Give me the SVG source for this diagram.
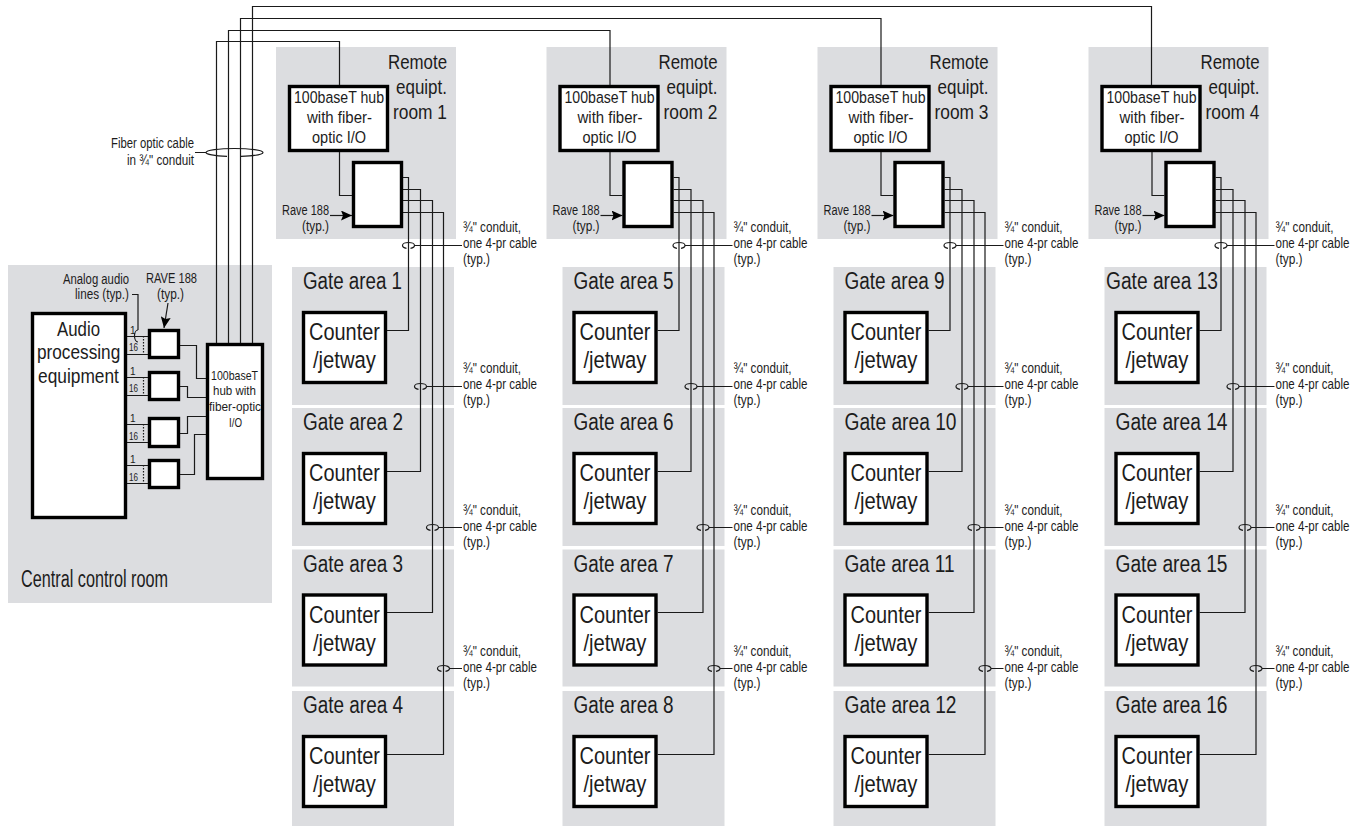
<svg xmlns="http://www.w3.org/2000/svg" width="1362" height="826" viewBox="0 0 1362 826">
<style>
text{font-family:"Liberation Sans",Arial,sans-serif;fill:#1c1c1c}
.bg{fill:#dcdde0}
.box{fill:#fff;stroke:#000;stroke-width:3.4}
.b{font-size:23px}
.r{font-size:21px}
.c{font-size:24.500px}
.h{font-size:17.200px}
.s{font-size:14px}
.m{font-size:13.500px}
.n{font-size:10px}
.w{fill:none;stroke:#1a1a1a;stroke-width:1.2}
.d{fill:none;stroke:#1a1a1a;stroke-width:1.2;stroke-dasharray:1.5 1.5}
</style>
<defs>
<marker id="arr" markerUnits="userSpaceOnUse" markerWidth="11" markerHeight="10" refX="11" refY="5" orient="auto"><path d="M0 0L11 5L0 10L2 5Z" fill="#000"/></marker>
</defs>

<g id="central-room">
<rect class="bg" x="8" y="265" width="264" height="338"/>
<text class="b" x="21" y="587" textLength="147" lengthAdjust="spacingAndGlyphs">Central control room</text>
<text class="s" x="63" y="284" textLength="66" lengthAdjust="spacingAndGlyphs">Analog audio</text>
<text class="s" x="75" y="299" textLength="54" lengthAdjust="spacingAndGlyphs">lines (typ.)</text>
<text class="s" x="146" y="283" textLength="51" lengthAdjust="spacingAndGlyphs">RAVE 188</text>
<text class="s" x="157" y="299" textLength="27" lengthAdjust="spacingAndGlyphs">(typ.)</text>
<text class="n" x="130" y="334">1</text><text class="n" x="129" y="351" textLength="9" lengthAdjust="spacingAndGlyphs">16</text>
<text class="n" x="130" y="375">1</text><text class="n" x="129" y="392" textLength="9" lengthAdjust="spacingAndGlyphs">16</text>
<text class="n" x="130" y="422">1</text><text class="n" x="129" y="440" textLength="9" lengthAdjust="spacingAndGlyphs">16</text>
<text class="n" x="130" y="463">1</text><text class="n" x="129" y="481" textLength="9" lengthAdjust="spacingAndGlyphs">16</text>
</g>
<g id="audio-processing">
<rect class="box" x="32.500" y="313.500" width="93" height="204"/>
<text class="r" x="57" y="336" textLength="43" lengthAdjust="spacingAndGlyphs">Audio</text>
<text class="r" transform="translate(37,359) scale(.82,1)">processing</text>
<text class="r" transform="translate(38,383) scale(.825,1)">equipment</text>
</g>
<g id="rave-a"><rect class="box" x="149.500" y="330.500" width="29" height="27"/></g>
<g id="rave-b"><rect class="box" x="149.500" y="372.500" width="29" height="27"/></g>
<g id="rave-c"><rect class="box" x="149.500" y="418.500" width="29" height="28"/></g>
<g id="rave-d"><rect class="box" x="149.500" y="460.500" width="29" height="27"/></g>
<g id="central-hub">
<rect class="box" x="207.500" y="344.500" width="55" height="134"/>
<text class="m" x="211" y="380" textLength="47" lengthAdjust="spacingAndGlyphs">100baseT</text>
<text class="m" x="213" y="395" textLength="43" lengthAdjust="spacingAndGlyphs">hub with</text>
<text class="m" x="209" y="411" textLength="52" lengthAdjust="spacingAndGlyphs">fiber-optic</text>
<text class="m" x="229" y="427" textLength="13" lengthAdjust="spacingAndGlyphs">I/O</text>
</g>
<g id="fiber-label">
<text class="s" x="111" y="148" textLength="83" lengthAdjust="spacingAndGlyphs">Fiber optic cable</text>
<text class="s" x="127" y="165" textLength="67" lengthAdjust="spacingAndGlyphs">in ¾" conduit</text>
</g>

<g id="room-1" transform="translate(0,0)">
<rect class="bg" x="276" y="47" width="180" height="192"/>
<text class="r" x="388" y="69" textLength="59" lengthAdjust="spacingAndGlyphs">Remote</text>
<text class="r" x="396" y="94" textLength="51" lengthAdjust="spacingAndGlyphs">equipt.</text>
<text class="r" x="393" y="119" textLength="54" lengthAdjust="spacingAndGlyphs">room 1</text>
<rect class="box" x="289.500" y="86.500" width="98" height="64"/>
<text class="h" x="294" y="103" textLength="90" lengthAdjust="spacingAndGlyphs">100baseT hub</text>
<text class="h" x="307" y="123" textLength="65" lengthAdjust="spacingAndGlyphs">with fiber-</text>
<text class="h" x="312" y="143" textLength="54" lengthAdjust="spacingAndGlyphs">optic I/O</text>
<rect class="box" x="353.500" y="162.500" width="48" height="64"/>
<text class="s" x="282" y="215" textLength="47" lengthAdjust="spacingAndGlyphs">Rave 188</text>
<text class="s" x="302" y="231" textLength="27" lengthAdjust="spacingAndGlyphs">(typ.)</text>
</g>
<g id="room-2" transform="translate(270.500,0)">
<rect class="bg" x="276" y="47" width="180" height="192"/>
<text class="r" x="388" y="69" textLength="59" lengthAdjust="spacingAndGlyphs">Remote</text>
<text class="r" x="396" y="94" textLength="51" lengthAdjust="spacingAndGlyphs">equipt.</text>
<text class="r" x="393" y="119" textLength="54" lengthAdjust="spacingAndGlyphs">room 2</text>
<rect class="box" x="289.500" y="86.500" width="98" height="64"/>
<text class="h" x="294" y="103" textLength="90" lengthAdjust="spacingAndGlyphs">100baseT hub</text>
<text class="h" x="307" y="123" textLength="65" lengthAdjust="spacingAndGlyphs">with fiber-</text>
<text class="h" x="312" y="143" textLength="54" lengthAdjust="spacingAndGlyphs">optic I/O</text>
<rect class="box" x="353.500" y="162.500" width="48" height="64"/>
<text class="s" x="282" y="215" textLength="47" lengthAdjust="spacingAndGlyphs">Rave 188</text>
<text class="s" x="302" y="231" textLength="27" lengthAdjust="spacingAndGlyphs">(typ.)</text>
</g>
<g id="room-3" transform="translate(541.500,0)">
<rect class="bg" x="276" y="47" width="180" height="192"/>
<text class="r" x="388" y="69" textLength="59" lengthAdjust="spacingAndGlyphs">Remote</text>
<text class="r" x="396" y="94" textLength="51" lengthAdjust="spacingAndGlyphs">equipt.</text>
<text class="r" x="393" y="119" textLength="54" lengthAdjust="spacingAndGlyphs">room 3</text>
<rect class="box" x="289.500" y="86.500" width="98" height="64"/>
<text class="h" x="294" y="103" textLength="90" lengthAdjust="spacingAndGlyphs">100baseT hub</text>
<text class="h" x="307" y="123" textLength="65" lengthAdjust="spacingAndGlyphs">with fiber-</text>
<text class="h" x="312" y="143" textLength="54" lengthAdjust="spacingAndGlyphs">optic I/O</text>
<rect class="box" x="353.500" y="162.500" width="48" height="64"/>
<text class="s" x="282" y="215" textLength="47" lengthAdjust="spacingAndGlyphs">Rave 188</text>
<text class="s" x="302" y="231" textLength="27" lengthAdjust="spacingAndGlyphs">(typ.)</text>
</g>
<g id="room-4" transform="translate(812.500,0)">
<rect class="bg" x="276" y="47" width="180" height="192"/>
<text class="r" x="388" y="69" textLength="59" lengthAdjust="spacingAndGlyphs">Remote</text>
<text class="r" x="396" y="94" textLength="51" lengthAdjust="spacingAndGlyphs">equipt.</text>
<text class="r" x="393" y="119" textLength="54" lengthAdjust="spacingAndGlyphs">room 4</text>
<rect class="box" x="289.500" y="86.500" width="98" height="64"/>
<text class="h" x="294" y="103" textLength="90" lengthAdjust="spacingAndGlyphs">100baseT hub</text>
<text class="h" x="307" y="123" textLength="65" lengthAdjust="spacingAndGlyphs">with fiber-</text>
<text class="h" x="312" y="143" textLength="54" lengthAdjust="spacingAndGlyphs">optic I/O</text>
<rect class="box" x="353.500" y="162.500" width="48" height="64"/>
<text class="s" x="282" y="215" textLength="47" lengthAdjust="spacingAndGlyphs">Rave 188</text>
<text class="s" x="302" y="231" textLength="27" lengthAdjust="spacingAndGlyphs">(typ.)</text>
</g>

<g id="gate-1"><rect class="bg" x="292" y="267" width="162" height="138"/><text class="b" x="303" y="289" textLength="99" lengthAdjust="spacingAndGlyphs">Gate area 1</text><rect class="box" x="303.500" y="312.500" width="82" height="70"/><text class="c" x="309" y="340" textLength="71" lengthAdjust="spacingAndGlyphs">Counter</text><text class="c" x="313" y="368" textLength="63" lengthAdjust="spacingAndGlyphs">/jetway</text></g>
<g id="gate-2" transform="translate(0,141)"><rect class="bg" x="292" y="267" width="162" height="138"/><text class="b" x="303" y="289" textLength="100" lengthAdjust="spacingAndGlyphs">Gate area 2</text><rect class="box" x="303.500" y="312.500" width="82" height="70"/><text class="c" x="309" y="340" textLength="71" lengthAdjust="spacingAndGlyphs">Counter</text><text class="c" x="313" y="368" textLength="63" lengthAdjust="spacingAndGlyphs">/jetway</text></g>
<g id="gate-3" transform="translate(0,282.500)"><rect class="bg" x="292" y="267" width="162" height="137"/><text class="b" x="303" y="289" textLength="100" lengthAdjust="spacingAndGlyphs">Gate area 3</text><rect class="box" x="303.500" y="312.500" width="82" height="70"/><text class="c" x="309" y="340" textLength="71" lengthAdjust="spacingAndGlyphs">Counter</text><text class="c" x="313" y="368" textLength="63" lengthAdjust="spacingAndGlyphs">/jetway</text></g>
<g id="gate-4" transform="translate(0,424)"><rect class="bg" x="292" y="267" width="162" height="135"/><text class="b" x="303" y="289" textLength="100" lengthAdjust="spacingAndGlyphs">Gate area 4</text><rect class="box" x="303.500" y="312.500" width="82" height="70"/><text class="c" x="309" y="340" textLength="71" lengthAdjust="spacingAndGlyphs">Counter</text><text class="c" x="313" y="368" textLength="63" lengthAdjust="spacingAndGlyphs">/jetway</text></g>

<g id="gate-5" transform="translate(270.500,0)"><rect class="bg" x="292" y="267" width="162" height="138"/><text class="b" x="303" y="289" textLength="100" lengthAdjust="spacingAndGlyphs">Gate area 5</text><rect class="box" x="303.500" y="312.500" width="82" height="70"/><text class="c" x="309" y="340" textLength="71" lengthAdjust="spacingAndGlyphs">Counter</text><text class="c" x="313" y="368" textLength="63" lengthAdjust="spacingAndGlyphs">/jetway</text></g>
<g id="gate-6" transform="translate(270.500,141)"><rect class="bg" x="292" y="267" width="162" height="138"/><text class="b" x="303" y="289" textLength="100" lengthAdjust="spacingAndGlyphs">Gate area 6</text><rect class="box" x="303.500" y="312.500" width="82" height="70"/><text class="c" x="309" y="340" textLength="71" lengthAdjust="spacingAndGlyphs">Counter</text><text class="c" x="313" y="368" textLength="63" lengthAdjust="spacingAndGlyphs">/jetway</text></g>
<g id="gate-7" transform="translate(270.500,282.500)"><rect class="bg" x="292" y="267" width="162" height="137"/><text class="b" x="303" y="289" textLength="100" lengthAdjust="spacingAndGlyphs">Gate area 7</text><rect class="box" x="303.500" y="312.500" width="82" height="70"/><text class="c" x="309" y="340" textLength="71" lengthAdjust="spacingAndGlyphs">Counter</text><text class="c" x="313" y="368" textLength="63" lengthAdjust="spacingAndGlyphs">/jetway</text></g>
<g id="gate-8" transform="translate(270.500,424)"><rect class="bg" x="292" y="267" width="162" height="135"/><text class="b" x="303" y="289" textLength="100" lengthAdjust="spacingAndGlyphs">Gate area 8</text><rect class="box" x="303.500" y="312.500" width="82" height="70"/><text class="c" x="309" y="340" textLength="71" lengthAdjust="spacingAndGlyphs">Counter</text><text class="c" x="313" y="368" textLength="63" lengthAdjust="spacingAndGlyphs">/jetway</text></g>

<g id="gate-9" transform="translate(541.500,0)"><rect class="bg" x="292" y="267" width="162" height="138"/><text class="b" x="303" y="289" textLength="100" lengthAdjust="spacingAndGlyphs">Gate area 9</text><rect class="box" x="303.500" y="312.500" width="82" height="70"/><text class="c" x="309" y="340" textLength="71" lengthAdjust="spacingAndGlyphs">Counter</text><text class="c" x="313" y="368" textLength="63" lengthAdjust="spacingAndGlyphs">/jetway</text></g>
<g id="gate-10" transform="translate(541.500,141)"><rect class="bg" x="292" y="267" width="162" height="138"/><text class="b" x="303" y="289" textLength="112" lengthAdjust="spacingAndGlyphs">Gate area 10</text><rect class="box" x="303.500" y="312.500" width="82" height="70"/><text class="c" x="309" y="340" textLength="71" lengthAdjust="spacingAndGlyphs">Counter</text><text class="c" x="313" y="368" textLength="63" lengthAdjust="spacingAndGlyphs">/jetway</text></g>
<g id="gate-11" transform="translate(541.500,282.500)"><rect class="bg" x="292" y="267" width="162" height="137"/><text class="b" x="303" y="289" textLength="110" lengthAdjust="spacingAndGlyphs">Gate area 11</text><rect class="box" x="303.500" y="312.500" width="82" height="70"/><text class="c" x="309" y="340" textLength="71" lengthAdjust="spacingAndGlyphs">Counter</text><text class="c" x="313" y="368" textLength="63" lengthAdjust="spacingAndGlyphs">/jetway</text></g>
<g id="gate-12" transform="translate(541.500,424)"><rect class="bg" x="292" y="267" width="162" height="135"/><text class="b" x="303" y="289" textLength="112" lengthAdjust="spacingAndGlyphs">Gate area 12</text><rect class="box" x="303.500" y="312.500" width="82" height="70"/><text class="c" x="309" y="340" textLength="71" lengthAdjust="spacingAndGlyphs">Counter</text><text class="c" x="313" y="368" textLength="63" lengthAdjust="spacingAndGlyphs">/jetway</text></g>

<g id="gate-13" transform="translate(812.500,0)"><rect class="bg" x="292" y="267" width="162" height="138"/><text class="b" x="293.500" y="289" textLength="112" lengthAdjust="spacingAndGlyphs">Gate area 13</text><rect class="box" x="303.500" y="312.500" width="82" height="70"/><text class="c" x="309" y="340" textLength="71" lengthAdjust="spacingAndGlyphs">Counter</text><text class="c" x="313" y="368" textLength="63" lengthAdjust="spacingAndGlyphs">/jetway</text></g>
<g id="gate-14" transform="translate(812.500,141)"><rect class="bg" x="292" y="267" width="162" height="138"/><text class="b" x="303" y="289" textLength="112" lengthAdjust="spacingAndGlyphs">Gate area 14</text><rect class="box" x="303.500" y="312.500" width="82" height="70"/><text class="c" x="309" y="340" textLength="71" lengthAdjust="spacingAndGlyphs">Counter</text><text class="c" x="313" y="368" textLength="63" lengthAdjust="spacingAndGlyphs">/jetway</text></g>
<g id="gate-15" transform="translate(812.500,282.500)"><rect class="bg" x="292" y="267" width="162" height="137"/><text class="b" x="303" y="289" textLength="112" lengthAdjust="spacingAndGlyphs">Gate area 15</text><rect class="box" x="303.500" y="312.500" width="82" height="70"/><text class="c" x="309" y="340" textLength="71" lengthAdjust="spacingAndGlyphs">Counter</text><text class="c" x="313" y="368" textLength="63" lengthAdjust="spacingAndGlyphs">/jetway</text></g>
<g id="gate-16" transform="translate(812.500,424)"><rect class="bg" x="292" y="267" width="162" height="135"/><text class="b" x="303" y="289" textLength="112" lengthAdjust="spacingAndGlyphs">Gate area 16</text><rect class="box" x="303.500" y="312.500" width="82" height="70"/><text class="c" x="309" y="340" textLength="71" lengthAdjust="spacingAndGlyphs">Counter</text><text class="c" x="313" y="368" textLength="63" lengthAdjust="spacingAndGlyphs">/jetway</text></g>

<g id="conduit-labels">
<g id="conduit-col-1">
<text class="s" x="463" y="232" textLength="58" lengthAdjust="spacingAndGlyphs">¾" conduit,</text><text class="s" x="463" y="248" textLength="74" lengthAdjust="spacingAndGlyphs">one 4-pr cable</text><text class="s" x="463" y="264" textLength="27" lengthAdjust="spacingAndGlyphs">(typ.)</text>
<text class="s" x="463" y="373" textLength="58" lengthAdjust="spacingAndGlyphs">¾" conduit,</text><text class="s" x="463" y="389" textLength="74" lengthAdjust="spacingAndGlyphs">one 4-pr cable</text><text class="s" x="463" y="405" textLength="27" lengthAdjust="spacingAndGlyphs">(typ.)</text>
<text class="s" x="463" y="515" textLength="58" lengthAdjust="spacingAndGlyphs">¾" conduit,</text><text class="s" x="463" y="531" textLength="74" lengthAdjust="spacingAndGlyphs">one 4-pr cable</text><text class="s" x="463" y="547" textLength="27" lengthAdjust="spacingAndGlyphs">(typ.)</text>
<text class="s" x="463" y="656" textLength="58" lengthAdjust="spacingAndGlyphs">¾" conduit,</text><text class="s" x="463" y="672" textLength="74" lengthAdjust="spacingAndGlyphs">one 4-pr cable</text><text class="s" x="463" y="688" textLength="27" lengthAdjust="spacingAndGlyphs">(typ.)</text>
</g>
<g id="conduit-col-2" transform="translate(270.500,0)">
<text class="s" x="463" y="232" textLength="58" lengthAdjust="spacingAndGlyphs">¾" conduit,</text><text class="s" x="463" y="248" textLength="74" lengthAdjust="spacingAndGlyphs">one 4-pr cable</text><text class="s" x="463" y="264" textLength="27" lengthAdjust="spacingAndGlyphs">(typ.)</text>
<text class="s" x="463" y="373" textLength="58" lengthAdjust="spacingAndGlyphs">¾" conduit,</text><text class="s" x="463" y="389" textLength="74" lengthAdjust="spacingAndGlyphs">one 4-pr cable</text><text class="s" x="463" y="405" textLength="27" lengthAdjust="spacingAndGlyphs">(typ.)</text>
<text class="s" x="463" y="515" textLength="58" lengthAdjust="spacingAndGlyphs">¾" conduit,</text><text class="s" x="463" y="531" textLength="74" lengthAdjust="spacingAndGlyphs">one 4-pr cable</text><text class="s" x="463" y="547" textLength="27" lengthAdjust="spacingAndGlyphs">(typ.)</text>
<text class="s" x="463" y="656" textLength="58" lengthAdjust="spacingAndGlyphs">¾" conduit,</text><text class="s" x="463" y="672" textLength="74" lengthAdjust="spacingAndGlyphs">one 4-pr cable</text><text class="s" x="463" y="688" textLength="27" lengthAdjust="spacingAndGlyphs">(typ.)</text>
</g>
<g id="conduit-col-3" transform="translate(541.500,0)">
<text class="s" x="463" y="232" textLength="58" lengthAdjust="spacingAndGlyphs">¾" conduit,</text><text class="s" x="463" y="248" textLength="74" lengthAdjust="spacingAndGlyphs">one 4-pr cable</text><text class="s" x="463" y="264" textLength="27" lengthAdjust="spacingAndGlyphs">(typ.)</text>
<text class="s" x="463" y="373" textLength="58" lengthAdjust="spacingAndGlyphs">¾" conduit,</text><text class="s" x="463" y="389" textLength="74" lengthAdjust="spacingAndGlyphs">one 4-pr cable</text><text class="s" x="463" y="405" textLength="27" lengthAdjust="spacingAndGlyphs">(typ.)</text>
<text class="s" x="463" y="515" textLength="58" lengthAdjust="spacingAndGlyphs">¾" conduit,</text><text class="s" x="463" y="531" textLength="74" lengthAdjust="spacingAndGlyphs">one 4-pr cable</text><text class="s" x="463" y="547" textLength="27" lengthAdjust="spacingAndGlyphs">(typ.)</text>
<text class="s" x="463" y="656" textLength="58" lengthAdjust="spacingAndGlyphs">¾" conduit,</text><text class="s" x="463" y="672" textLength="74" lengthAdjust="spacingAndGlyphs">one 4-pr cable</text><text class="s" x="463" y="688" textLength="27" lengthAdjust="spacingAndGlyphs">(typ.)</text>
</g>
<g id="conduit-col-4" transform="translate(812.500,0)">
<text class="s" x="463" y="232" textLength="58" lengthAdjust="spacingAndGlyphs">¾" conduit,</text><text class="s" transform="translate(463,248) scale(.827,1)">one 4-pr cable</text><text class="s" x="463" y="264" textLength="27" lengthAdjust="spacingAndGlyphs">(typ.)</text>
<text class="s" x="463" y="373" textLength="58" lengthAdjust="spacingAndGlyphs">¾" conduit,</text><text class="s" transform="translate(463,389) scale(.827,1)">one 4-pr cable</text><text class="s" x="463" y="405" textLength="27" lengthAdjust="spacingAndGlyphs">(typ.)</text>
<text class="s" x="463" y="515" textLength="58" lengthAdjust="spacingAndGlyphs">¾" conduit,</text><text class="s" transform="translate(463,531) scale(.827,1)">one 4-pr cable</text><text class="s" x="463" y="547" textLength="27" lengthAdjust="spacingAndGlyphs">(typ.)</text>
<text class="s" x="463" y="656" textLength="58" lengthAdjust="spacingAndGlyphs">¾" conduit,</text><text class="s" transform="translate(463,672) scale(.827,1)">one 4-pr cable</text><text class="s" x="463" y="688" textLength="27" lengthAdjust="spacingAndGlyphs">(typ.)</text>
</g>
</g>

<g id="connectors">
<g id="central-wires">
<path class="w" d="M127 336.500H148M127 354.500H148M127 377.500H148M127 395.500H148M127 424.500H148M127 442.500H148M127 465.500H148M127 483.500H148"/>
<path class="d" d="M143.500 336V355M143.500 377V396M143.500 424V443M143.500 465V484"/>
<path class="w" d="M180 345.500H196.500V378.500H206M180 386.500H187.500V397.500H206M180 433.500H187.500V416.500H206M180 474.500H194.500V434.500H206"/>
<path class="w" d="M132 294.500H138V330"/>
<path class="w" d="M138 330A3.500 6 0 0 0 138 342"/>
<path class="w" d="M168 303L164 328" marker-end="url(#arr)"/>
</g>
<g id="fibers">
<path class="w" d="M216.500 343V41.500H339.500V85"/>
<path class="w" d="M228.500 343V30.500H610V85"/>
<path class="w" d="M240.500 343V18.500H881V85"/>
<path class="w" d="M252.500 343V6.500H1151.500V85"/>
<path class="w" d="M195 152.500H206A28.500 4 0 0 1 263 152.500A28.500 4 0 0 1 241 156.400M227 156.400A28.500 4 0 0 1 206 152.500"/>
</g>
<g id="wires-col-1">
<path class="w" d="M339.500 152V195.500H352"/>
<path class="w" d="M330 215.500H352" marker-end="url(#arr)"/>
<path class="w" d="M403 177.500H408.500V330.500H387"/>
<path class="w" d="M403 189.500H420.500V471.500H387"/>
<path class="w" d="M403 200.500H432.500V612.500H387"/>
<path class="w" d="M403 212.500H443.500V754.500H387"/>
<path class="w" d="M402.500 245.500a6 3 0 0 1 12 0a6 3 0 0 1 -4 2.800m-4 0a6 3 0 0 1 -4 -2.800M414.500 245.500H462"/>
<path class="w" d="M414.500 386.500a6 3 0 0 1 12 0a6 3 0 0 1 -4 2.800m-4 0a6 3 0 0 1 -4 -2.800M426.500 386.500H462"/>
<path class="w" d="M426.500 527.500a6 3 0 0 1 12 0a6 3 0 0 1 -4 2.800m-4 0a6 3 0 0 1 -4 -2.800M438.500 527.500H462"/>
<path class="w" d="M437.500 668.500a6 3 0 0 1 12 0a6 3 0 0 1 -4 2.800m-4 0a6 3 0 0 1 -4 -2.800M449.500 668.500H462"/>
</g>
<g id="wires-col-2" transform="translate(270.500,0)">
<path class="w" d="M339.500 152V195.500H352"/>
<path class="w" d="M330 215.500H352" marker-end="url(#arr)"/>
<path class="w" d="M403 177.500H408.500V330.500H387"/>
<path class="w" d="M403 189.500H420.500V471.500H387"/>
<path class="w" d="M403 200.500H432.500V612.500H387"/>
<path class="w" d="M403 212.500H443.500V754.500H387"/>
<path class="w" d="M402.500 245.500a6 3 0 0 1 12 0a6 3 0 0 1 -4 2.800m-4 0a6 3 0 0 1 -4 -2.800M414.500 245.500H462"/>
<path class="w" d="M414.500 386.500a6 3 0 0 1 12 0a6 3 0 0 1 -4 2.800m-4 0a6 3 0 0 1 -4 -2.800M426.500 386.500H462"/>
<path class="w" d="M426.500 527.500a6 3 0 0 1 12 0a6 3 0 0 1 -4 2.800m-4 0a6 3 0 0 1 -4 -2.800M438.500 527.500H462"/>
<path class="w" d="M437.500 668.500a6 3 0 0 1 12 0a6 3 0 0 1 -4 2.800m-4 0a6 3 0 0 1 -4 -2.800M449.500 668.500H462"/>
</g>
<g id="wires-col-3" transform="translate(541.500,0)">
<path class="w" d="M339.500 152V195.500H352"/>
<path class="w" d="M330 215.500H352" marker-end="url(#arr)"/>
<path class="w" d="M403 177.500H408.500V330.500H387"/>
<path class="w" d="M403 189.500H420.500V471.500H387"/>
<path class="w" d="M403 200.500H432.500V612.500H387"/>
<path class="w" d="M403 212.500H443.500V754.500H387"/>
<path class="w" d="M402.500 245.500a6 3 0 0 1 12 0a6 3 0 0 1 -4 2.800m-4 0a6 3 0 0 1 -4 -2.800M414.500 245.500H462"/>
<path class="w" d="M414.500 386.500a6 3 0 0 1 12 0a6 3 0 0 1 -4 2.800m-4 0a6 3 0 0 1 -4 -2.800M426.500 386.500H462"/>
<path class="w" d="M426.500 527.500a6 3 0 0 1 12 0a6 3 0 0 1 -4 2.800m-4 0a6 3 0 0 1 -4 -2.800M438.500 527.500H462"/>
<path class="w" d="M437.500 668.500a6 3 0 0 1 12 0a6 3 0 0 1 -4 2.800m-4 0a6 3 0 0 1 -4 -2.800M449.500 668.500H462"/>
</g>
<g id="wires-col-4" transform="translate(812.500,0)">
<path class="w" d="M339.500 152V195.500H352"/>
<path class="w" d="M330 215.500H352" marker-end="url(#arr)"/>
<path class="w" d="M403 177.500H408.500V330.500H387"/>
<path class="w" d="M403 189.500H420.500V471.500H387"/>
<path class="w" d="M403 200.500H432.500V612.500H387"/>
<path class="w" d="M403 212.500H443.500V754.500H387"/>
<path class="w" d="M402.500 245.500a6 3 0 0 1 12 0a6 3 0 0 1 -4 2.800m-4 0a6 3 0 0 1 -4 -2.800M414.500 245.500H462"/>
<path class="w" d="M414.500 386.500a6 3 0 0 1 12 0a6 3 0 0 1 -4 2.800m-4 0a6 3 0 0 1 -4 -2.800M426.500 386.500H462"/>
<path class="w" d="M426.500 527.500a6 3 0 0 1 12 0a6 3 0 0 1 -4 2.800m-4 0a6 3 0 0 1 -4 -2.800M438.500 527.500H462"/>
<path class="w" d="M437.500 668.500a6 3 0 0 1 12 0a6 3 0 0 1 -4 2.800m-4 0a6 3 0 0 1 -4 -2.800M449.500 668.500H462"/>
</g>
</g>
</svg>
